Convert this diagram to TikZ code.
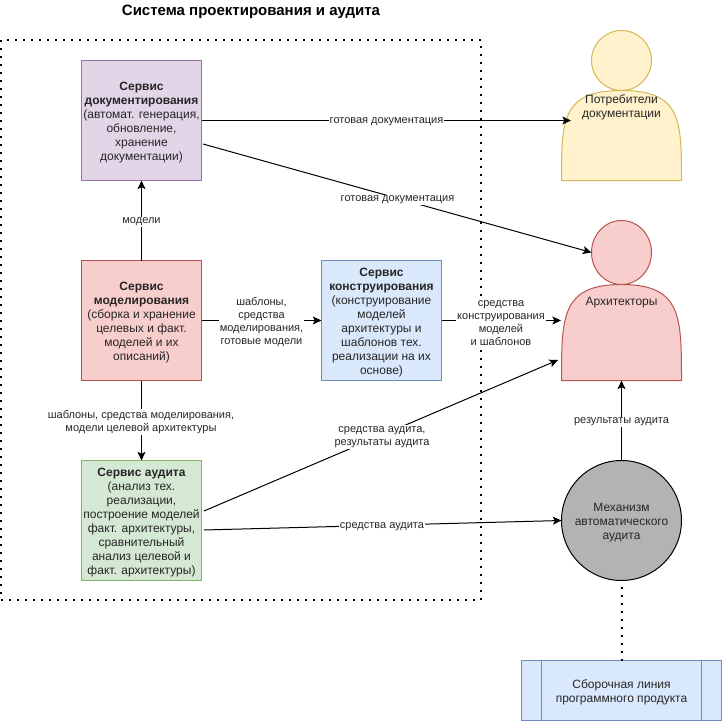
\documentclass[tikz,border=0pt]{standalone}
\usepackage{fontspec}
\setmainfont{Liberation Sans}
\usepackage{xcolor}
\definecolor{dgpurple}{RGB}{225,213,231}
\definecolor{dgpurpleline}{RGB}{150,115,166}
\definecolor{dgred}{RGB}{248,206,204}
\definecolor{dgredline}{RGB}{184,84,80}
\definecolor{dgblue}{RGB}{218,232,252}
\definecolor{dgblueline}{RGB}{108,142,191}
\definecolor{dggreen}{RGB}{213,232,212}
\definecolor{dggreenline}{RGB}{130,179,102}
\definecolor{dgyellow}{RGB}{255,242,204}
\definecolor{dgyellowline}{RGB}{214,182,86}
\definecolor{dggray}{RGB}{179,179,179}
\usetikzlibrary{arrows.meta, shapes.geometric}
\newcommand{\topgap}{\rule{0pt}{9.6pt}}
\tikzset{
  servicebox/.style={draw, line width=0.75pt, minimum width=90pt, minimum height=90pt,
    inner sep=0pt, outer sep=0pt, align=center, text=black!85,
    font=\fontsize{9}{10.5}\selectfont},
  flow/.style={-{Stealth[length=6.5pt,width=6pt,inset=1.5pt]}, line width=0.75pt},
  flowlabel/.style={fill=white, inner sep=0.75pt, align=center, text=black!85,
    font=\fontsize{8.25}{9.75}\selectfont},
  dotline/.style={line width=1.5pt, dash pattern=on 1.5pt off 4.5pt},
  actorlabel/.style={inner sep=0pt, align=center, text=black!85,
    font=\fontsize{9}{10.5}\selectfont},
  actorbody/.style={line width=0.75pt}
}
\begin{document}
\begin{tikzpicture}[x=0.75pt, y=-0.75pt]
  \useasboundingbox (0,0) rectangle (722,721);
  \node[inner sep=0pt, font=\fontsize{11.25}{13}\selectfont\bfseries] (title) at (251,12) {Система проектирования и аудита};

  % Dotted system border
  \draw[dotline] (1,40) rectangle (481,600);

  % --- Services ---
  \node[servicebox, fill=dgpurple, draw=dgpurpleline] (docs) at (141.5,120.5)
    {\topgap\textbf{Сервис}\\\textbf{документирования}\\(автомат. генерация,\\обновление,\\хранение\\документации)};
  \node[servicebox, fill=dgred, draw=dgredline] (model) at (141.5,320.5)
    {\topgap\textbf{Сервис}\\\textbf{моделирования}\\(сборка и хранение\\целевых и факт.\\моделей и их\\описаний)};
  \node[servicebox, fill=dgblue, draw=dgblueline] (build) at (381.5,320.5)
    {\topgap\textbf{Сервис}\\\textbf{конструирования}\\(конструирование\\моделей\\архитектуры и\\шаблонов тех.\\реализации на их\\основе)};
  \node[servicebox, fill=dggreen, draw=dggreenline] (audit) at (141.5,520.5)
    {\topgap\textbf{Сервис аудита}\\(анализ тех.\\реализации,\\построение моделей\\факт. архитектуры,\\сравнительный\\анализ целевой и\\факт. архитектуры)};

  % --- Actors ---
  \draw[actorbody, fill=dgyellow, draw=dgyellowline] (561.5,180.5) .. controls (561.5,120.5) and (561.5,90.5) .. (621.5,90.5)
    .. controls (681.5,90.5) and (681.5,120.5) .. (681.5,180.5) -- cycle;
  \node[draw=dgyellowline, fill=dgyellow, ellipse, line width=0.75pt, minimum width=45pt, minimum height=45pt, inner sep=0pt, outer sep=0pt] (readerhead) at (621.5,60.5) {};
  \node[actorlabel] (readers) at (621.5,107) {Потребители\\документации};

  \draw[actorbody, fill=dgred, draw=dgredline] (561.5,380.5) .. controls (561.5,316.5) and (561.5,284.5) .. (621.5,284.5)
    .. controls (681.5,284.5) and (681.5,316.5) .. (681.5,380.5) -- cycle;
  \node[draw=dgredline, fill=dgred, ellipse, line width=0.75pt, minimum width=45pt, minimum height=48pt, inner sep=0pt, outer sep=0pt] (archhead) at (621.5,252.5) {};
  \node[actorlabel] (archs) at (621.5,302.5) {Архитекторы};
  \coordinate (archbottom) at (621.5,380.5);

  % --- Mechanism and assembly line ---
  \node[servicebox, circle, fill=dggray, draw=black, minimum size=90pt] (mech) at (621.5,520.5) {\topgap Механизм\\автоматического\\аудита};
  \node[servicebox, fill=dgblue, draw=dgblueline, minimum width=150pt, minimum height=45pt] (line) at (621.5,690.5)
    {\topgap Сборочная линия\\программного продукта};
  \draw[line width=0.75pt, dgblueline] ([xshift=15pt]line.north west) -- ([xshift=15pt]line.south west);
  \draw[line width=0.75pt, dgblueline] ([xshift=-15pt]line.north east) -- ([xshift=-15pt]line.south east);

  % Free ends of the connectors
  \coordinate (readerin) at (571,120.5);
  \coordinate (docsout) at (203,144);
  \coordinate (archin) at (561,320.5);
  \coordinate (auditup) at (204,511);
  \coordinate (archlow) at (558,360);
  \coordinate (auditout) at (204,530);

  % Connectors
  \draw[flow] (model.north) -- (docs.south);
  \draw[flow] (model.south) -- (audit.north);
  \draw[flow] (model.east) -- (build.west);
  \draw[flow] (docs.east) -- (readerin);
  \draw[flow] (docsout) -- (archhead.west);
  \draw[flow] (build.east) -- (archin);
  \draw[flow] (auditup) -- (archlow);
  \draw[flow] (auditout) -- (mech.west);
  \draw[flow] (mech.north) -- (archbottom);
  \draw[dotline, shorten >=3pt] (line.north) -- (mech.south);

  % Connector labels
  \node[flowlabel] (lbmodels) at (141.5,222) {модели};
  \node[flowlabel] (lbtemplates) at (141,422) {шаблоны, средства моделирования,\\модели целевой архитектуры};
  \node[flowlabel] (lbtools) at (261.5,322) {шаблоны,\\средства\\моделирования,\\готовые модели};
  \node[flowlabel] (lbdocsa) at (386.5,122) {готовая документация};
  \node[flowlabel] (lbdocsb) at (397.5,200) {готовая документация};
  \node[flowlabel] (lbbuild) at (501,323.5) {средства\\конструирования\\моделей\\и шаблонов};
  \node[flowlabel] (lbaudita) at (382,437) {средства аудита,\\результаты аудита};
  \node[flowlabel] (lbauditb) at (382,527) {средства аудита};
  \node[flowlabel] (lbresults) at (621.5,422) {результаты аудита};
\end{tikzpicture}
\end{document}
